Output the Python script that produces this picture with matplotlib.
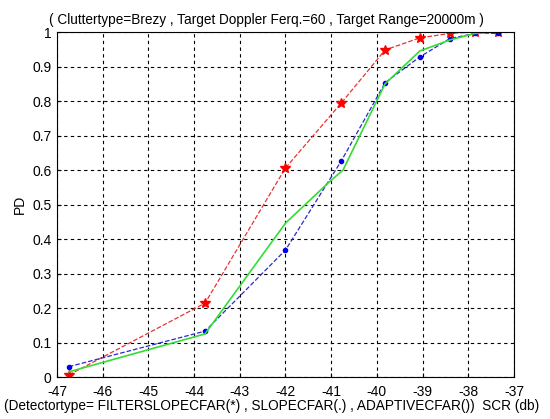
import numpy as np
import matplotlib.pyplot as plt

plt.rcParams['font.family'] = ['Liberation Sans', 'DejaVu Sans']
plt.rcParams['axes.unicode_minus'] = False

# SCR (db) 采样点
scr = [-46.74, -43.76, -42.0, -40.78, -39.82, -39.06, -38.4, -37.85, -37.35]
# FILTERSLOPECFAR(*)
pd_filter = [0.006, 0.214, 0.606, 0.794, 0.948, 0.983, 0.996, 1.0, 1.0]
# SLOPECFAR(.)
pd_slope = [0.03, 0.133, 0.368, 0.626, 0.853, 0.928, 0.981, 0.996, 0.996]
# ADAPTIVECFAR()
scr_adapt = [-46.74, -43.76, -42.0, -41.07, -40.74, -39.82, -39.06, -38.4, -37.85, -37.35]
pd_adapt = [0.015, 0.125, 0.446, 0.562, 0.6, 0.85, 0.945, 0.977, 0.996, 1.0]

fig = plt.figure(figsize=(5.5, 4.19), dpi=100)
ax = fig.add_axes([0.1036, 0.1002, 0.8309, 0.8234])

ax.plot(scr, pd_filter, '--', color='#e83333', lw=0.9, marker='*', ms=7.5,
        mec='#ff0000', mfc='#ff0000')
ax.plot(scr, pd_slope, '--', color='#2a2acc', lw=0.9, marker='.', ms=6,
        mec='#0000ee', mfc='#0000ee')
ax.plot(scr_adapt, pd_adapt, '-', color='#33dd33', lw=1.2)

ax.set_xlim(-47, -37)
ax.set_ylim(0, 1)
ax.set_xticks(np.arange(-47, -36, 1))
ax.set_yticks(np.arange(0, 1.01, 0.1))
ax.set_yticklabels(['0', '0.1', '0.2', '0.3', '0.4', '0.5', '0.6', '0.7', '0.8', '0.9', '1'])
ax.grid(True, color='black', linestyle=(0, (3, 3)), lw=0.8)
ax.tick_params(direction='in', labelsize=10, length=3)
ax.tick_params(axis='x', pad=6)
ax.tick_params(axis='y', pad=4)
for s in ax.spines.values():
    s.set_linewidth(0.8)

ax.set_title('( Cluttertype=Brezy , Target Doppler Ferq.=60 , Target Range=20000m )',
             fontsize=9.8, pad=6, x=0.458)
ax.set_xlabel('(Detectortype= FILTERSLOPECFAR(*) , SLOPECFAR(.) , ADAPTIVECFAR())  SCR (db)',
              fontsize=9.8, labelpad=0, x=0.47)
ax.set_ylabel('PD', fontsize=10)

fig.savefig('out.png', dpi=100)
